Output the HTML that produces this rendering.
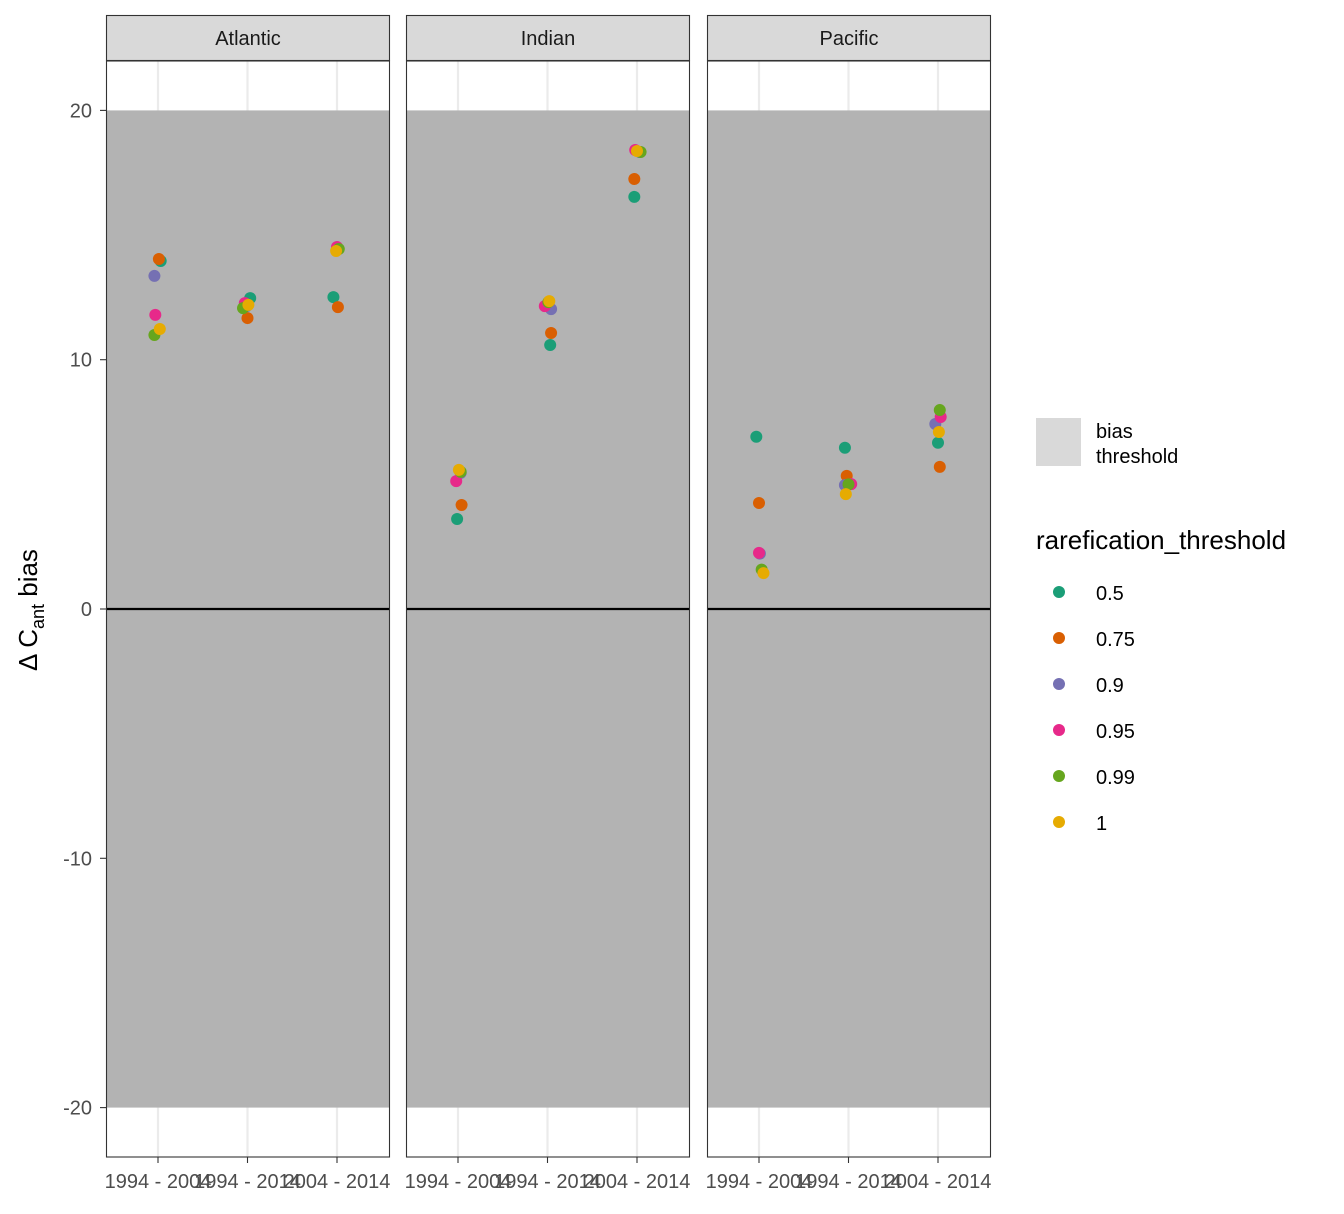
<!DOCTYPE html>
<html><head><meta charset="utf-8"><style>
body{margin:0;background:#fff;font-family:"Liberation Sans",sans-serif}
</style></head><body>
<svg id="chart" width="1344" height="1209" xmlns="http://www.w3.org/2000/svg" font-family="Liberation Sans, sans-serif">
<rect width="1344" height="1209" fill="#fff"/>
</svg>
<script>
const regions=["Atlantic","Indian","Pacific"];
const periods=["1994 - 2004","1994 - 2014","2004 - 2014"];
const thresholds=["0.5","0.75","0.9","0.95","0.99","1"];
const colors=["#1b9e77","#d95f02","#7570b3","#e7298a","#66a61e","#e6ab02"];
const yTicks=[20,10,0,-10,-20];
// values[region][period][threshold]
const atlanticVals=[[13.96,14.04,13.36,11.8,10.99,11.23],[12.47,11.67,12.15,12.27,12.07,12.2],[12.51,12.11,14.48,14.52,14.44,14.36]];
const indianVals=[[3.61,4.17,5.46,5.13,5.5,5.58],[10.59,11.07,12.03,12.15,12.31,12.35],[16.53,17.25,18.33,18.41,18.33,18.37]];
const pacificVals=[[6.91,4.25,2.22,2.25,1.58,1.44],[6.47,5.34,4.97,5.01,5.0,4.61],[6.67,5.7,7.42,7.7,7.98,7.1]];
// horizontal jitter in category units
const atlanticJit=[[0.03,0.01,-0.04,-0.03,-0.04,0.02],[0.03,0,-0.01,-0.03,-0.05,0.01],[-0.04,0.01,0,0,0.02,-0.01]];
const indianJit=[[-0.01,0.04,0.03,-0.02,0.03,0.01],[0.03,0.04,0.04,-0.03,0.01,0.02],[-0.03,-0.03,0.03,-0.02,0.04,0]];
const pacificJit=[[-0.03,0,0.01,0,0.03,0.05],[-0.04,-0.02,-0.04,0.03,0,-0.03],[0,0.02,-0.03,0.03,0.02,0.01]];
const allVals=[atlanticVals,indianVals,pacificVals];
const allJit=[atlanticJit,indianJit,pacificJit];
const biasLo=-20,biasHi=20;

const NS="http://www.w3.org/2000/svg";
const svg=document.getElementById('chart');
function el(t,a,p){const e=document.createElementNS(NS,t);for(const k in a)e.setAttribute(k,a[k]);(p||svg).appendChild(e);return e;}
const panelX=[106,406,707],panelW=284,topY=61,botY=1157;
const yS=v=>609-v*24.93;
const xS=(p,i)=>panelX[p]+52+i*89.5;

yTicks.forEach(t=>{
 const l=el('line',{x1:100,x2:106,y1:yS(t),y2:yS(t),stroke:'#333','stroke-width':1.1});
 
 
 const tx=el('text',{x:92,y:yS(t)+7,'text-anchor':'end','font-size':20,fill:'#4d4d4d'});
 tx.textContent=t;
 
 
});
const yt=el('text',{transform:'translate(37,610) rotate(-90)','text-anchor':'middle','font-size':26,fill:'#000'});
yt.innerHTML='Δ C<tspan font-size="18" dy="7">ant</tspan><tspan dy="-7"> bias</tspan>';



regions.forEach((r,p)=>{
 const g=el('g',{});
 
 
 el('rect',{x:panelX[p],y:topY,width:panelW,height:botY-topY,fill:'#fff'},g);
 periods.forEach((c,i)=>el('line',{x1:xS(p,i),x2:xS(p,i),y1:topY,y2:botY,stroke:'#ebebeb','stroke-width':2.2},g));
 const br=el('rect',{x:panelX[p],y:yS(biasHi),width:panelW,height:yS(biasLo)-yS(biasHi),fill:'#b3b3b3'},g);
 
 
 const zl=el('line',{x1:panelX[p],x2:panelX[p]+panelW,y1:yS(0),y2:yS(0),stroke:'#000','stroke-width':2.2},g);
 
 
 periods.forEach((c,i)=>{
  thresholds.forEach((th,k)=>{
   const pt=el('circle',{cx:xS(p,i+allJit[p][i][k]),cy:yS(allVals[p][i][k]),r:6,fill:colors[k]},g);
   
   
  });
 });
 el('rect',{x:panelX[p]+0.5,y:topY,width:panelW-1,height:botY-topY,fill:'none',stroke:'#333','stroke-width':1.1},g);
 const st=el('rect',{x:panelX[p]+0.5,y:15.5,width:panelW-1,height:45,fill:'#d9d9d9',stroke:'#333','stroke-width':1.1},g);
 
 
 const stt=el('text',{x:panelX[p]+panelW/2,y:45,'text-anchor':'middle','font-size':20,fill:'#1a1a1a'},g);
 stt.textContent=r;
 
 
 periods.forEach((c,i)=>{
  el('line',{x1:xS(p,i),x2:xS(p,i),y1:botY,y2:botY+6,stroke:'#333','stroke-width':1.1},g);
  const t=el('text',{x:xS(p,i),y:1188,'text-anchor':'middle','font-size':20,fill:'#4d4d4d'},g);
  t.textContent=c;
  
  
 });
});

const lg=el('g',{});


const bk=el('rect',{x:1036,y:418,width:45,height:48,fill:'#d9d9d9'},lg);


const b1=el('text',{x:1096,y:438,'font-size':20,fill:'#000'},lg);b1.textContent='bias';
const b2=el('text',{x:1096,y:463,'font-size':20,fill:'#000'},lg);b2.textContent='threshold';
const lt=el('text',{x:1036,y:549,'font-size':26,fill:'#000'},lg);lt.textContent='rarefication_threshold';


thresholds.forEach((th,k)=>{
 const yy=592+k*46;
 const c=el('circle',{cx:1059,cy:yy,r:6,fill:colors[k]},lg);
 
 
 const t=el('text',{x:1096,y:yy+8,'font-size':20,fill:'#000'},lg);
 t.textContent=th;
 
 
});
</script>
</body></html>
